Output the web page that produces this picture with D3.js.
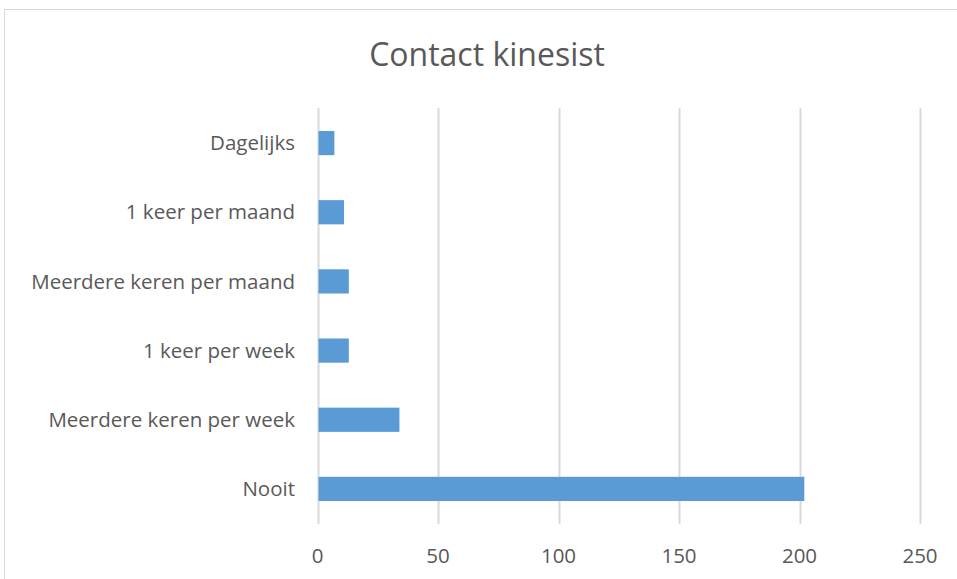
<html>
<head>
<script src="https://d3js.org/d3.v7.min.js"></script>
<style>
  body { margin: 0; background: #fff; }
  text { font-family: "Open Sans", "Noto Sans", sans-serif; fill: #595959; }
</style>
</head>
<body>
<svg width="957" height="579"></svg>
<script>
var categories = ["Dagelijks", "1 keer per maand", "Meerdere keren per maand",
                  "1 keer per week", "Meerdere keren per week", "Nooit"];
var values = [7, 11, 13, 13, 34, 202];
var xTicks = [0, 50, 100, 150, 200, 250];

var svg = d3.select("svg");

// outer chart border
svg.append("rect")
   .attr("x", 4.5).attr("y", 9.5)
   .attr("width", 970).attr("height", 600)
   .attr("fill", "none").attr("stroke", "#d9d9d9");

svg.append("text")
   .attr("x", 487).attr("y", 66)
   .attr("text-anchor", "middle")
   .attr("font-size", 32)
   .text("Contact kinesist");

var x = d3.scaleLinear().domain([0, 250]).range([317.5, 920]);
var y = d3.scaleBand().domain(categories).range([108.5, 523.5]).paddingInner(0.65).paddingOuter(0.325);

// gridlines
svg.append("g").selectAll("line")
   .data(xTicks)
   .enter().append("line")
   .attr("x1", function(d) { return Math.round(x(d)) + 0.5; })
   .attr("x2", function(d) { return Math.round(x(d)) + 0.5; })
   .attr("y1", 108).attr("y2", 524)
   .attr("stroke", "#d9d9d9").attr("stroke-width", 2);

svg.append("g").selectAll("rect")
   .data(values)
   .enter().append("rect")
   .attr("x", x(0) + 1)
   .attr("y", function(d, i) { return y(categories[i]); })
   .attr("width", function(d) { return x(d) - x(0) - 1; })
   .attr("height", y.bandwidth())
   .attr("fill", "#5b9bd5");

// x tick labels
svg.append("g").selectAll("text")
   .data(xTicks)
   .enter().append("text")
   .attr("x", function(d) { return x(d); })
   .attr("y", 563)
   .attr("text-anchor", "middle")
   .attr("font-size", 20.5)
   .text(function(d) { return d; });

// category labels
svg.append("g").selectAll("text")
   .data(categories)
   .enter().append("text")
   .attr("x", 295)
   .attr("y", function(d) { return y(d) + y.bandwidth() / 2; })
   .attr("dy", "0.35em")
   .attr("text-anchor", "end")
   .attr("font-size", 20.5)
   .text(function(d) { return d; });
</script>
</body>
</html>
